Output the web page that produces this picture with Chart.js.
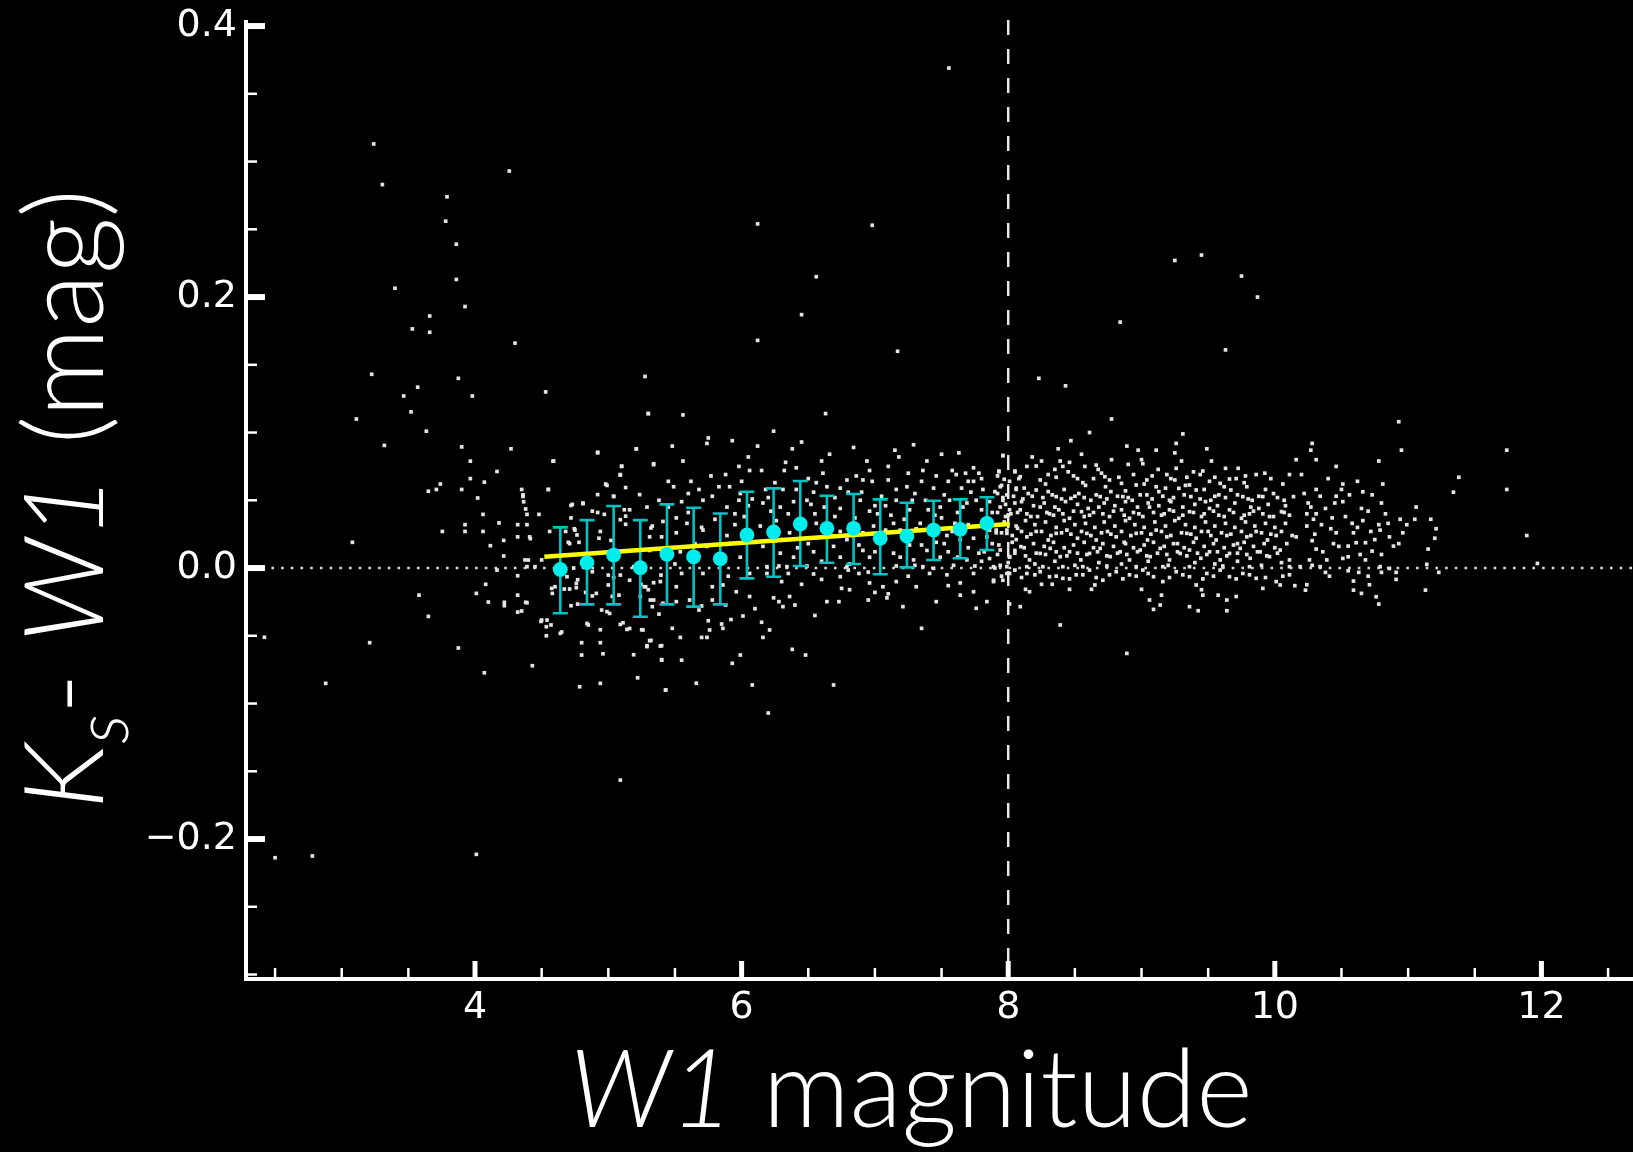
<!DOCTYPE html>
<html>
<head>
<meta charset="utf-8">
<script src="https://cdn.jsdelivr.net/npm/chart.js@4"></script>
<style>
  html, body { margin: 0; padding: 0; background: #000; }
  #wrap { width: 1633px; height: 1152px; }
</style>
</head>
<body>
<div id="wrap"><canvas id="c" width="1633" height="1152"></canvas></div>
<script>
// ---------- axis ranges & ticks ----------
const xMin = 2.282, xMax = 12.687;
const yMin = -0.3033, yMax = 0.403;
const xMajorTicks = [4, 6, 8, 10, 12];
const xMinorTicks = [2.5, 3, 3.5, 4.5, 5, 5.5, 6.5, 7, 7.5, 8.5, 9, 9.5, 10.5, 11, 11.5, 12.5];
const yMajorTicks = [-0.2, 0.0, 0.2, 0.4];
const yMinorTicks = [-0.3, -0.25, -0.15, -0.1, -0.05, 0.05, 0.1, 0.15, 0.25, 0.3, 0.35];
const limitW1 = 8;      // vertical dashed line
const zeroLevel = 0;    // horizontal dotted line
const xTitleItalic = 'W1', xTitleRest = ' magnitude';

// ---------- binned means with error bars ----------
const binW1   = [4.64, 4.84, 5.04, 5.24, 5.44, 5.64, 5.84, 6.04, 6.24, 6.44, 6.64, 6.84, 7.04, 7.24, 7.44, 7.64, 7.84];
const binMean = [-0.001, 0.004, 0.0096, 0.0002, 0.0101, 0.0083, 0.0068, 0.0244, 0.0266, 0.0325, 0.0293, 0.0293, 0.022, 0.0236, 0.028, 0.0286, 0.033];
const binUpper = [0.030, 0.0354, 0.0458, 0.0354, 0.047, 0.0445, 0.0403, 0.0563, 0.0588, 0.0642, 0.0534, 0.0546, 0.0507, 0.0482, 0.0497, 0.0507, 0.0522];
const binLower = [-0.0334, -0.0268, -0.0268, -0.036, -0.0268, -0.0285, -0.0268, -0.0076, -0.0064, 0.0015, 0.0039, 0.003, -0.0046, 0.0005, 0.0059, 0.0072, 0.0133];

// ---------- linear fit ----------
const fitW1 = [4.52, 8.01];
const fitColor = [0.0083, 0.0325];

// ---------- individual stars [W1, Ks-W1] ----------
const starsLeft = [
[3.24,0.313],[3.305,0.283],[4.257,0.293],[3.79,0.274],[3.78,0.256],[3.86,0.239],[3.86,0.213],[3.40,0.2065],[3.925,0.193],[3.66,0.186],[3.53,0.1765],[3.66,0.174],[4.30,0.166],[3.225,0.143],[3.875,0.140],[3.57,0.1335],[3.465,0.127],[3.98,0.127],[4.53,0.130],[5.275,0.1414],[5.30,0.114],[3.52,0.1153],[3.11,0.110],[3.635,0.101],[3.32,0.0905],[3.90,0.0894],[4.27,0.088],[3.965,0.0789],[4.585,0.0789],[4.92,0.0855],[5.21,0.088],[5.34,0.0763],[4.165,0.0713],[3.965,0.066],[4.07,0.0634],[3.74,0.062],[3.71,0.058],[3.65,0.0567],[3.90,0.058],[4.35,0.058],[4.55,0.058],[4.02,0.0517],[4.36,0.0528],[4.365,0.0489],[4.38,0.0436],[4.06,0.0396],[4.39,0.0396],[4.48,0.0396],[3.925,0.032],[3.925,0.027],[3.755,0.027],[4.06,0.027],[4.18,0.0333],[4.32,0.032],[4.39,0.032],[4.115,0.0165],[4.215,0.0204],[4.32,0.023],[4.415,0.0217],[3.08,0.019],
[4.72,0.0462],[4.81,0.0475],[4.92,0.0542],[4.98,0.062],[5.04,0.0528],[5.09,0.0686],[5.10,0.0752],[5.13,0.0594],[5.235,0.0542],[4.72,0.037],[4.92,0.041],[4.97,0.0396],[5.09,0.0357],[5.13,0.0383],[4.56,0.027],[4.68,0.027],[4.745,0.029],[4.765,0.0244],[4.94,0.027],[5.02,0.0204],[5.13,0.0323],[5.32,0.0296],[5.31,0.023],[5.41,0.0344],[4.70,0.019],[4.78,0.019],
[4.215,0.0089],[4.40,0.0059],[4.165,-0.0015],[4.32,-0.0057],[4.08,-0.012],[3.58,-0.020],[4.01,-0.0187],[4.32,-0.020],[4.10,-0.0251],[4.22,-0.0253],[4.22,-0.0278],[4.38,-0.0253],[4.35,-0.0317],[4.32,-0.0325],[3.65,-0.0357],[4.495,-0.0394],[4.535,-0.0433],[4.57,-0.042],[4.535,-0.050],[4.65,-0.0472],[2.42,-0.0511],[3.21,-0.0551],[3.875,-0.059],[4.43,-0.0721],[4.07,-0.0773],[2.88,-0.0851],[5.09,-0.1565],[2.50,-0.2138],[2.78,-0.2125],[4.01,-0.2113],[4.575,-0.015],[4.67,-0.0155],[4.785,-0.0876],[4.94,-0.0851],[5.22,-0.081],[4.80,-0.0551],[4.80,-0.0642],[4.94,-0.0551],[4.96,-0.0633],[5.19,-0.064],[4.85,-0.042],[4.94,-0.0455],[5.09,-0.0416],[5.14,-0.0453],[5.25,-0.0455],[5.32,-0.0534],[5.29,-0.0573],[5.40,-0.0573],[5.40,-0.0676],[5.43,-0.090],[4.99,-0.0322],[4.95,-0.031],[4.72,-0.0278],[4.77,-0.0266],[4.83,-0.018],[4.88,-0.0206],[4.76,-0.0145],[5.0,-0.0052],[5.04,-0.0071],[5.03,-0.0209],[5.0,-0.0125],[5.245,-0.012],[5.27,-0.0138],[5.30,-0.016],[5.315,-0.0236],[5.33,-0.0285],[5.34,-0.0108],[5.38,-0.034],[5.395,-0.0052],[5.41,-0.026],[4.77,-0.0086],[4.71,-0.0155],
[4.36,0.054],[4.41,0.023],[4.45,0.001],[4.39,-0.0256],[4.55,0.058],[4.59,0.079],[4.73,0.047],[4.81,0.048],[4.88,0.042],[4.92,0.085],[4.99,0.061],[5.09,0.069],[5.10,0.075],[5.04,0.053],[5.12,0.043],[5.16,0.043],[5.21,0.088],[4.93,0.022],[4.75,0.028],[4.71,0.018],[4.69,-0.0064],[4.60,-0.0138],[4.76,-0.0113],[4.88,-0.0027],[4.91,-0.0187],[5.08,-0.020],[5.09,-0.0052],[5.16,-0.009],[5.19,0.001],[5.01,-0.0335],[5.11,-0.0404],[5.16,-0.0446],[4.84,-0.0409],[4.58,-0.0187],[4.54,-0.0384],[4.64,-0.0482],[4.50,-0.0384],[4.375,0.006],[4.39,0.001],[4.50,0.006],[4.74,0.0],[5.09,0.012]
];

const starsMid = [
[5.30,0.114],[5.56,0.113],[6.63,0.114],[6.24,0.101],[5.75,0.096],[5.74,0.092],[5.93,0.094],[6.45,0.093],[5.48,0.090],[6.12,0.090],[6.38,0.088],[6.84,0.089],[7.29,0.091],[7.15,0.087],[5.56,0.079],[5.34,0.077],[6.05,0.082],[6.33,0.078],[6.60,0.079],[6.66,0.084],[6.94,0.079],[7.18,0.082],[7.39,0.079],[7.50,0.084],[7.63,0.085],[7.61,0.069],[7.96,0.083],[5.77,0.068],[5.88,0.069],[5.98,0.075],[6.06,0.072],[6.15,0.072],[6.32,0.072],[6.41,0.074],[6.61,0.070],[6.79,0.065],[6.96,0.072],[7.10,0.075],[7.36,0.072],[7.58,0.072],[7.68,0.070],[7.74,0.074],[7.78,0.070],[7.93,0.071],[8.05,0.071],
[5.45,0.064],[5.62,0.064],[5.49,0.060],[5.68,0.058],[5.83,0.060],[5.91,0.060],[5.99,0.055],[6.18,0.058],[6.31,0.058],[6.41,0.058],[6.54,0.056],[6.64,0.060],[6.74,0.059],[6.91,0.065],[6.98,0.064],[7.10,0.065],[7.16,0.058],[7.24,0.060],[7.30,0.055],[7.44,0.059],[7.55,0.064],[7.65,0.059],[7.74,0.064],[7.81,0.058],[7.94,0.060],[8.01,0.064],[8.06,0.059],
[5.29,0.045],[5.38,0.050],[5.51,0.037],[5.55,0.049],[5.71,0.050],[5.78,0.053],[5.89,0.045],[5.98,0.050],[6.08,0.051],[6.16,0.048],[6.29,0.045],[6.39,0.049],[6.49,0.050],[6.55,0.040],[6.74,0.044],[6.89,0.050],[6.96,0.042],[7.08,0.046],[7.16,0.050],[7.26,0.043],[7.38,0.050],[7.49,0.045],[7.56,0.050],[7.69,0.048],[7.76,0.050],[7.86,0.049],[7.96,0.050],[8.01,0.043],[8.05,0.048],
[5.33,0.031],[5.40,0.023],[5.51,0.026],[5.59,0.033],[5.71,0.028],[5.89,0.024],[5.95,0.032],[6.14,0.031],[6.26,0.035],[6.36,0.026],[6.56,0.033],[6.74,0.027],[6.79,0.021],[6.91,0.026],[6.99,0.031],[7.14,0.033],[7.19,0.028],[7.31,0.029],[7.41,0.026],[7.54,0.024],[7.64,0.021],[7.74,0.022],[7.84,0.023],[7.91,0.026],[7.99,0.028],[8.06,0.021],
[5.31,0.013],[5.54,0.012],[5.74,0.016],[5.91,0.018],[5.99,0.008],[6.16,0.016],[6.29,0.011],[6.34,0.001],[6.39,0.008],[6.54,0.012],[6.69,0.016],[6.74,0.008],[6.81,0.003],[6.91,0.013],[6.96,0.008],[7.14,0.011],[7.19,0.008],[7.29,0.006],[7.39,0.013],[7.49,0.008],[7.59,0.002],[7.69,0.006],[7.78,0.011],[7.86,0.007],[7.94,0.002],[8.01,0.008],[8.05,0.013],
[6.19,0.001],[6.28,0.0015],[6.49,0.0015],[6.79,0.001],[7.16,0.0015],[7.36,0.001],[7.44,-0.0002],[7.75,0.0015],
[5.28,-0.0138],[5.39,-0.010],[5.51,-0.0138],[5.71,-0.004],[5.78,-0.0138],[5.86,-0.0125],[5.96,-0.0175],[6.06,-0.004],[6.19,-0.004],[6.35,-0.004],[6.54,-0.0044],[6.60,-0.0084],[6.74,-0.0064],[6.80,-0.0015],[6.88,-0.004],[6.96,-0.011],[7.06,-0.0138],[7.16,-0.010],[7.31,-0.0138],[7.41,-0.004],[7.54,-0.005],[7.64,-0.011],[7.74,-0.004],[7.89,-0.010],[7.96,-0.009],[8.01,-0.004],
[5.24,-0.021],[5.34,-0.0236],[5.51,-0.0248],[5.61,-0.0236],[5.68,-0.031],[5.78,-0.0236],[5.88,-0.0273],[6.06,-0.021],[6.24,-0.022],[6.28,-0.0248],[6.31,-0.0285],[6.36,-0.021],[6.40,-0.0273],[6.64,-0.0248],[6.73,-0.0248],[6.81,-0.016],[6.95,-0.0236],[7.09,-0.022],[7.10,-0.019],[7.21,-0.0285],[7.46,-0.0248],[7.64,-0.020],[7.74,-0.0175],[7.84,-0.0248],[7.76,-0.0297],
[5.26,-0.0457],[5.48,-0.0445],[5.54,-0.0512],[5.70,-0.0512],[5.74,-0.0512],[5.75,-0.0389],[5.76,-0.0457],[5.85,-0.0413],[5.86,-0.0445],[6.01,-0.0354],[6.16,-0.0512],[6.21,-0.0457],[7.35,-0.0445],
[5.29,-0.058],[5.39,-0.0576],[5.31,-0.0536],[5.55,-0.068],[5.40,-0.068],[5.99,-0.0642],[5.93,-0.0703],[6.38,-0.060],[6.48,-0.0642],[5.66,-0.085],[5.43,-0.090],[6.08,-0.0863],[6.69,-0.0863],[6.20,-0.107],
[6.02,0.038],[6.22,0.042],[6.45,0.036],[6.62,0.045],[6.85,0.037],[7.02,0.040],[7.22,0.036],[7.45,0.039],[7.62,0.041],[7.83,0.036],[6.1,0.019],[6.3,0.021],[6.5,0.018],[6.68,0.024],[6.88,0.017],[7.05,0.020],[7.26,0.017],[7.46,0.019],[7.7,0.015],[7.88,0.018],[5.6,0.041],[5.8,0.036],[5.65,0.018],[5.85,0.005],[6.0,0.064],[6.25,0.063],[6.5,0.066],[6.7,0.052],[6.9,0.056],[7.05,0.053],[7.35,0.064],[7.52,0.054],[7.72,0.056],[7.88,0.041],[7.98,0.038],[7.6,0.033],[7.4,0.043],[7.08,0.028],[6.6,0.005],[6.95,-0.003],[7.3,0.002],[7.55,0.012],[7.8,0.005],[5.5,0.003],[5.9,-0.006],[6.45,-0.012],[7.0,-0.018],[7.55,-0.013],[6.1,-0.03],[6.55,-0.035],
[6.05,0.046],[6.20,0.052],[6.35,0.040],[6.52,0.047],[6.70,0.038],[6.80,0.056],[7.00,0.046],[7.12,0.039],[7.28,0.050],[7.34,0.033],[7.50,0.037],[7.58,0.027],[7.66,0.045],[7.70,0.032],[7.80,0.043],[7.86,0.028],[7.92,0.055],[7.80,0.066],[7.70,0.064],[7.46,0.068],[7.25,0.070],[6.86,0.068],[6.56,0.063],[6.25,0.020],[6.42,0.015],[6.62,0.030],[6.84,0.024],[7.00,0.012],[7.22,0.024],[7.35,0.017],[7.52,0.018],[7.62,0.008],[7.82,0.012],[7.90,0.000],[7.25,-0.006],[6.75,-0.015],[6.30,-0.010],[5.95,0.040],[5.70,0.030],[5.60,0.055],[5.45,0.045],[5.40,0.012],[5.55,-0.004],[5.70,-0.028],[5.92,-0.038],[6.15,-0.040],
[6.12,0.254],[6.56,0.215],[6.45,0.187],[6.98,0.253],[6.12,0.168],[7.17,0.160],[7.555,0.369]
];

const starsRight = [
[8.775,0.110],[8.61,0.100],[9.31,0.099],[8.47,0.094],[9.26,0.092],[8.375,0.088],[8.55,0.084],[8.89,0.090],[8.975,0.087],[9.11,0.087],[9.25,0.085],[9.49,0.088],[8.775,0.080],[9.00,0.080],[9.01,0.077],[9.30,0.079],[9.525,0.079],[10.16,0.080],[7.96,0.083],[8.18,0.082],[8.25,0.079],[8.39,0.079],[8.46,0.078],
[7.93,0.0716],[8.05,0.0716],[8.14,0.075],[8.21,0.0753],[8.35,0.0728],[8.41,0.075],[8.45,0.071],[8.575,0.075],[8.66,0.076],[8.675,0.0728],[8.90,0.0765],[8.94,0.069],[9.125,0.0728],[9.19,0.069],[9.26,0.0736],[9.34,0.067],[9.39,0.071],[9.46,0.0716],[9.63,0.0736],[9.725,0.0736],[9.66,0.0657],[9.86,0.069],[9.925,0.070],[10.11,0.069],[7.97,0.0655],[8.09,0.0674],[8.24,0.065],[8.36,0.067],[8.49,0.068],[8.56,0.063],[8.64,0.066],[8.725,0.0674],[8.76,0.065],[8.85,0.0625],[8.96,0.0613],[9.04,0.065],[9.11,0.060],[9.25,0.065],[9.36,0.0613],[9.51,0.064],[9.59,0.0625],[9.71,0.066],[9.79,0.060],[10.06,0.062],
[7.90,0.0564],[7.99,0.054],[8.06,0.058],[8.15,0.055],[8.21,0.0576],[8.30,0.0564],[8.36,0.0527],[8.47,0.0514],[8.53,0.055],[8.62,0.050],[8.69,0.0527],[8.77,0.0564],[8.86,0.0527],[8.93,0.050],[9.04,0.054],[9.13,0.0564],[9.21,0.050],[9.28,0.0588],[9.37,0.0527],[9.41,0.0576],[9.52,0.050],[9.58,0.054],[9.67,0.0576],[9.76,0.0527],[9.83,0.050],[9.91,0.0527],[9.99,0.055],[10.07,0.050],[10.14,0.0527],
[7.94,0.045],[8.02,0.040],[8.09,0.043],[8.17,0.038],[8.24,0.045],[8.31,0.040],[8.38,0.043],[8.46,0.0367],[8.55,0.0416],[8.61,0.039],[8.68,0.045],[8.76,0.038],[8.85,0.043],[8.91,0.0367],[8.98,0.040],[9.06,0.045],[9.15,0.039],[9.21,0.043],[9.28,0.0367],[9.36,0.0416],[9.45,0.038],[9.51,0.044],[9.58,0.039],[9.66,0.043],[9.75,0.0367],[9.81,0.040],[9.88,0.044],[9.96,0.038],[10.05,0.0416],[10.11,0.039],
[7.91,0.028],[7.99,0.0256],[8.07,0.0293],[8.14,0.023],[8.21,0.027],[8.30,0.0207],[8.36,0.0256],[8.44,0.028],[8.52,0.022],[8.59,0.0256],[8.66,0.0207],[8.745,0.027],[8.81,0.023],[8.88,0.018],[8.96,0.0256],[9.045,0.0207],[9.11,0.028],[9.19,0.023],[9.27,0.018],[9.34,0.0256],[9.41,0.022],[9.50,0.027],[9.56,0.0207],[9.64,0.024],[9.72,0.018],[9.79,0.023],[9.86,0.027],[9.945,0.0207],[10.01,0.024],[10.09,0.018],[10.16,0.023],
[7.94,0.0133],[8.01,0.0084],[8.095,0.0158],[8.16,0.006],[8.24,0.0108],[8.315,0.0145],[8.39,0.0084],[8.46,0.012],[8.545,0.006],[8.61,0.0108],[8.69,0.0145],[8.765,0.0084],[8.84,0.012],[8.91,0.006],[8.99,0.0133],[9.065,0.0084],[9.14,0.0145],[9.21,0.006],[9.29,0.0108],[9.36,0.0133],[9.445,0.0072],[9.51,0.012],[9.59,0.006],[9.66,0.0108],[9.74,0.0145],[9.815,0.0072],[9.89,0.012],[9.96,0.0084],[10.04,0.0133],[10.11,0.006],
[7.89,0.001],[7.99,0.001],[8.14,0.001],[8.26,0.001],[8.41,0.001],[8.56,0.001],[8.74,0.0015],[8.96,0.001],[9.16,0.001],[9.36,0.001],[9.61,0.0015],[9.81,0.001],[10.11,0.001],
[7.89,-0.009],[7.99,-0.004],[8.05,-0.0015],[8.14,-0.004],[8.24,-0.0027],[8.31,-0.0064],[8.41,-0.0076],[8.51,-0.005],[8.61,-0.0015],[8.71,-0.009],[8.81,-0.0027],[8.91,-0.005],[9.01,-0.0015],[9.09,-0.0064],[9.16,-0.010],[9.26,-0.0027],[9.36,-0.0064],[9.41,-0.0125],[9.49,-0.004],[9.59,-0.0015],[9.66,-0.0064],[9.76,-0.004],[9.86,-0.0076],[10.01,-0.010],[10.11,-0.005],
[8.13,-0.0157],[8.16,-0.0175],[8.25,-0.012],[8.33,-0.012],[8.46,-0.0157],[8.625,-0.0157],[8.65,-0.0125],[9.00,-0.0157],[9.06,-0.0236],[9.09,-0.0305],[9.15,-0.020],[9.14,-0.0273],[9.36,-0.0285],[9.425,-0.0315],[9.45,-0.016],[9.46,-0.020],[9.575,-0.020],[9.64,-0.0236],[9.64,-0.0315],[9.71,-0.021],[9.91,-0.015],[10.04,-0.0125],[10.15,-0.013],[8.01,-0.0265],[8.09,-0.0285],[8.39,-0.042],
[7.95,0.061],[8.12,0.059],[8.28,0.062],[8.42,0.058],[8.58,0.061],[8.73,0.060],[8.88,0.057],[9.02,0.062],[9.18,0.059],[9.33,0.061],[9.47,0.058],[9.62,0.060],[9.77,0.063],[9.93,0.058],
[7.98,0.047],[8.10,0.049],[8.19,0.046],[8.27,0.048],[8.35,0.045],[8.43,0.049],[8.52,0.047],[8.60,0.044],[8.72,0.048],[8.80,0.046],[8.88,0.049],[8.97,0.045],[9.05,0.048],[9.13,0.046],[9.22,0.049],[9.31,0.045],[9.40,0.047],[9.48,0.049],[9.57,0.046],[9.70,0.048],[9.82,0.045],[9.95,0.047],[10.08,0.046],
[7.97,0.034],[8.06,0.031],[8.13,0.035],[8.20,0.032],[8.28,0.034],[8.36,0.030],[8.42,0.035],[8.50,0.032],[8.58,0.033],[8.65,0.030],[8.72,0.034],[8.80,0.031],[8.88,0.035],[8.95,0.032],[9.02,0.030],[9.10,0.034],[9.18,0.031],[9.25,0.035],[9.33,0.032],[9.40,0.030],[9.48,0.034],[9.55,0.031],[9.63,0.033],[9.70,0.030],[9.78,0.034],[9.85,0.031],[9.93,0.033],[10.00,0.030],[10.08,0.033],
[7.93,0.017],[8.03,0.019],[8.12,0.015],[8.19,0.018],[8.27,0.016],[8.34,0.019],[8.42,0.015],[8.49,0.017],[8.57,0.019],[8.64,0.015],[8.71,0.018],[8.79,0.016],[8.87,0.019],[8.94,0.015],[9.02,0.017],[9.09,0.019],[9.17,0.016],[9.24,0.018],[9.32,0.015],[9.39,0.019],[9.47,0.016],[9.54,0.018],[9.62,0.015],[9.69,0.017],[9.77,0.019],[9.84,0.016],[9.92,0.018],[10.0,0.015],
[8.0,0.004],[8.2,0.003],[8.35,0.005],[8.5,0.002],[8.68,0.004],[8.85,0.003],[9.05,0.005],[9.2,0.002],[9.4,0.004],[9.55,0.003],[9.72,0.005],[9.9,0.002],[10.05,0.004],
[7.92,0.068],[8.08,0.066],[8.30,0.069],[8.52,0.066],[8.70,0.070],[8.83,0.067],[9.08,0.068],[9.22,0.066],[9.44,0.069],[9.55,0.067],[9.78,0.068],[9.97,0.066],
[7.96,0.052],[8.04,0.053],[8.11,0.051],[8.18,0.053],[8.26,0.052],[8.33,0.054],[8.40,0.051],[8.50,0.053],[8.57,0.052],[8.66,0.054],[8.74,0.051],[8.82,0.053],[8.90,0.052],[8.99,0.054],[9.08,0.051],[9.16,0.053],[9.24,0.052],[9.32,0.054],[9.44,0.051],[9.55,0.053],[9.63,0.052],[9.72,0.054],[9.80,0.051],[9.88,0.053],[10.02,0.052],
[7.92,0.041],[8.00,0.039],[8.07,0.041],[8.14,0.040],[8.22,0.038],[8.29,0.041],[8.34,0.039],[8.41,0.040],[8.49,0.042],[8.57,0.038],[8.64,0.041],[8.71,0.040],[8.79,0.042],[8.87,0.039],[8.94,0.041],[9.01,0.038],[9.09,0.041],[9.17,0.040],[9.24,0.042],[9.31,0.039],[9.39,0.041],[9.47,0.040],[9.54,0.042],[9.62,0.038],[9.69,0.041],[9.77,0.039],[9.84,0.042],[9.91,0.040],[9.99,0.038],[10.07,0.041],
[7.95,0.026],[8.03,0.024],[8.10,0.027],[8.17,0.025],[8.25,0.027],[8.32,0.024],[8.40,0.026],[8.47,0.025],[8.55,0.027],[8.62,0.024],[8.70,0.026],[8.77,0.025],[8.85,0.027],[8.92,0.024],[9.00,0.026],[9.07,0.025],[9.15,0.027],[9.22,0.024],[9.30,0.026],[9.37,0.025],[9.45,0.027],[9.52,0.024],[9.60,0.026],[9.67,0.025],[9.75,0.027],[9.82,0.024],[9.90,0.026],[9.97,0.025],[10.05,0.027],[10.13,0.024],
[7.92,0.010],[8.05,0.011],[8.13,0.009],[8.21,0.011],[8.28,0.010],[8.36,0.012],[8.44,0.009],[8.52,0.011],[8.59,0.010],[8.67,0.012],[8.74,0.009],[8.82,0.011],[8.89,0.010],[8.97,0.012],[9.04,0.009],[9.12,0.011],[9.19,0.010],[9.27,0.012],[9.34,0.009],[9.42,0.011],[9.49,0.010],[9.57,0.012],[9.64,0.009],[9.72,0.011],[9.79,0.010],[9.87,0.012],[9.94,0.009],[10.02,0.011],
[7.95,-0.006],[8.10,-0.007],[8.20,-0.005],[8.36,-0.006],[8.46,-0.008],[8.56,-0.005],[8.66,-0.007],[8.76,-0.005],[8.86,-0.008],[8.96,-0.006],[9.05,-0.004],[9.21,-0.007],[9.31,-0.005],[9.46,-0.008],[9.54,-0.006],[9.71,-0.008],[9.81,-0.005],[9.93,-0.007],[10.06,-0.006],
[10.93,0.108],[10.28,0.092],[10.27,0.087],[10.31,0.080],[10.46,0.075],[10.78,0.079],[10.95,0.087],[11.74,0.087],[11.38,0.067],[11.34,0.056],[11.74,0.058],[10.51,0.062],[10.81,0.062],[10.31,0.058],[10.22,0.055],[10.34,0.053],[10.46,0.053],[10.56,0.054],[10.66,0.0563],[10.73,0.054],[10.51,0.049],[10.45,0.048],[10.80,0.048],[10.65,0.044],[11.06,0.045],[10.27,0.045],[10.24,0.040],[10.29,0.036],[10.43,0.037],[10.58,0.033],[10.66,0.035],[10.78,0.032],[10.83,0.040],[10.94,0.036],[10.99,0.032],[11.05,0.036],[11.17,0.036],[11.21,0.029],[11.20,0.022],[11.15,0.014],[10.31,0.040],[10.24,0.031],[10.35,0.032],[10.46,0.026],[10.59,0.026],[10.72,0.027],[10.79,0.028],[10.86,0.023],[10.93,0.018],[10.96,0.026],[10.28,0.0202],[10.31,0.014],[10.44,0.018],[10.55,0.0162],[10.61,0.0187],[10.68,0.0187],[10.73,0.0125],[10.80,0.010],[10.89,0.0162],[10.26,0.006],[10.39,0.006],[10.51,0.0071],[10.55,0.0083],[10.68,0.006],[11.89,0.024],[11.97,0.0034],[11.14,0.0027],[11.23,-0.0032],[10.38,-0.0032],[10.63,-0.0032],[10.80,-0.0032],[10.91,-0.0032],[10.91,-0.0084],[10.24,-0.0123],[10.23,-0.0163],[10.59,-0.0096],[10.59,-0.0163],[10.65,-0.0187],[10.71,-0.0123],[10.76,-0.0212],[10.78,-0.0266],[11.13,-0.0163],[10.19,0.001],[10.34,0.001],[10.79,0.001],[10.86,-0.0003],
[10.25,0.048],[10.38,0.044],[10.42,0.029],[10.53,0.038],[10.62,0.030],[10.70,0.042],[10.36,0.012],[10.48,0.016],[10.64,0.010],[10.75,0.021],[10.85,0.033],[10.30,0.025],[10.41,-0.006],[10.55,-0.002],[10.70,-0.006],[10.28,0.002],[10.50,0.058],[10.62,0.064],[10.20,0.069],[10.40,0.066],
[9.25,0.227],[9.45,0.231],[9.75,0.2155],[9.87,0.200],[8.84,0.1815],[9.63,0.161],[8.23,0.140],[8.43,0.1345],[8.89,-0.063]
];

// ---------- colours ----------
const starColor = '#e4e4e4';
const meanColor = '#00eded';
const barColor = '#00c2c2';
const fitLineColor = '#ffff00';

const toXY = a => a.map(p => ({x: p[0], y: p[1]}));
const starPoints = toXY([...starsLeft, ...starsMid, ...starsRight]);
const meanPoints = binW1.map((w, i) => ({x: w, y: binMean[i]}));
const fitPoints = fitW1.map((w, i) => ({x: w, y: fitColor[i]}));

const titleFont = (italic, size) => `${italic ? 'italic ' : ''}300 ${size}px Lato, "Open Sans", sans-serif`;

function measurePieces(ctx, pieces) {
  let w = 0;
  pieces.forEach(p => { ctx.font = p.font; p.w = ctx.measureText(p.t).width; w += p.w; });
  return w;
}

const decor = {
  id: 'decor',
  beforeDatasetsDraw(chart) {
    const {ctx, chartArea: a, scales: {x, y}} = chart;
    ctx.save();
    const y0 = y.getPixelForValue(zeroLevel);
    ctx.strokeStyle = '#d8d8d8';
    ctx.lineWidth = 2.6;
    ctx.setLineDash([2.6, 7.1]);
    ctx.beginPath(); ctx.moveTo(a.left + 6, y0); ctx.lineTo(a.right, y0); ctx.stroke();
    const xl = x.getPixelForValue(limitW1);
    ctx.strokeStyle = '#e6e6e6';
    ctx.lineWidth = 2.5;
    ctx.setLineDash([15, 14]);
    ctx.beginPath(); ctx.moveTo(xl, a.top - 2); ctx.lineTo(xl, a.bottom); ctx.stroke();
    ctx.restore();
  },
  beforeDatasetDraw(chart, args) {
    if (chart.data.datasets[args.index].label !== 'fit') return;
    const {ctx, scales: {x, y}} = chart;
    ctx.save();
    ctx.strokeStyle = barColor;
    ctx.lineWidth = 2.6;
    binW1.forEach((w, i) => {
      const px = x.getPixelForValue(w);
      const pt = y.getPixelForValue(binUpper[i]);
      const pb = y.getPixelForValue(binLower[i]);
      ctx.beginPath();
      ctx.moveTo(px, pt); ctx.lineTo(px, pb);
      ctx.moveTo(px - 7.5, pt); ctx.lineTo(px + 7.5, pt);
      ctx.moveTo(px - 7.5, pb); ctx.lineTo(px + 7.5, pb);
      ctx.stroke();
    });
    ctx.restore();
  },
  afterDraw(chart) {
    const {ctx, chartArea: a, scales: {x, y}} = chart;
    ctx.save();
    ctx.strokeStyle = '#ffffff';
    ctx.lineCap = 'butt';
    const tick = (vals, len, wid, isX) => {
      ctx.lineWidth = wid;
      vals.forEach(v => {
        ctx.beginPath();
        if (isX) { const p = x.getPixelForValue(v); ctx.moveTo(p, a.bottom); ctx.lineTo(p, a.bottom - len); }
        else { const p = y.getPixelForValue(v); ctx.moveTo(a.left, p); ctx.lineTo(a.left + len, p); }
        ctx.stroke();
      });
    };
    tick(xMajorTicks, 18, 5, true);
    tick(xMinorTicks, 11, 2.5, true);
    tick(yMajorTicks, 19, 6, false);
    tick(yMinorTicks, 11, 2.5, false);

    // axis titles
    ctx.fillStyle = '#ffffff';
    ctx.textBaseline = 'alphabetic';
    ctx.textAlign = 'left';
    const size = 108;
    const xp = [{t: xTitleItalic, font: titleFont(true, size)}, {t: xTitleRest, font: titleFont(false, size)}];
    const xw = measurePieces(ctx, xp);
    let cx = 911 - xw / 2;
    xp.forEach(p => { ctx.font = p.font; ctx.fillText(p.t, cx, 1127); cx += p.w; });

    const ys = 111;
    ctx.translate(103, 499);
    ctx.rotate(-Math.PI / 2);
    const yp = [
      {t: 'K', font: titleFont(true, ys), dy: 0},
      {t: 's', font: titleFont(true, Math.round(ys * 0.68)), dy: 25},
      {t: '- ', font: titleFont(false, ys), dy: 0},
      {t: 'W1', font: titleFont(true, ys), dy: 0},
      {t: ' (mag)', font: titleFont(false, ys), dy: 0}
    ];
    const yw = measurePieces(ctx, yp);
    let cy = -yw / 2;
    yp.forEach(p => { ctx.font = p.font; ctx.fillText(p.t, cy, p.dy); cy += p.w; });
    ctx.restore();
  }
};

new Chart(document.getElementById('c'), {
  type: 'scatter',
  data: {
    datasets: [
      {label: 'stars', data: starPoints, pointStyle: 'rect', pointRadius: 2.6, pointHoverRadius: 2.6,
       backgroundColor: starColor, borderWidth: 0, order: 3},
      {label: 'fit', type: 'line', data: fitPoints, borderColor: fitLineColor, borderWidth: 4.5,
       pointRadius: 0, fill: false, tension: 0, order: 2},
      {label: 'means', data: meanPoints, pointRadius: 7.4, pointHoverRadius: 7.4,
       backgroundColor: meanColor, borderWidth: 0, order: 1}
    ]
  },
  options: {
    responsive: false,
    animation: false,
    devicePixelRatio: 1,
    events: [],
    layout: {autoPadding: false, padding: {top: 22, left: 0, right: 0, bottom: 0}},
    plugins: {legend: {display: false}, tooltip: {enabled: false}},
    scales: {
      x: {
        type: 'linear', min: xMin, max: xMax,
        afterBuildTicks: s => { s.ticks = xMajorTicks.map(v => ({value: v})); },
        afterFit: s => { s.height = 173; s.paddingLeft = 0; s.paddingRight = 0; },
        grid: {display: false, drawTicks: false},
        border: {display: true, color: '#ffffff', width: 4},
        ticks: {color: '#ffffff', font: {family: 'DejaVu Sans', size: 38}, padding: 6,
                maxRotation: 0, autoSkip: false, callback: v => String(v)}
      },
      y: {
        type: 'linear', min: yMin, max: yMax,
        afterBuildTicks: s => { s.ticks = yMajorTicks.map(v => ({value: v})); },
        afterFit: s => { s.width = 246; s.paddingTop = 0; s.paddingBottom = 0; },
        grid: {display: false, drawTicks: false},
        border: {display: true, color: '#ffffff', width: 4},
        ticks: {color: '#ffffff', font: {family: 'DejaVu Sans', size: 38}, padding: 9,
                autoSkip: false,
                callback: v => (Math.abs(v) < 1e-9 ? '0.0' : (v < 0 ? '\u2212' : '') + Math.abs(v).toFixed(1))}
      }
    }
  },
  plugins: [decor]
});
</script>
</body>
</html>
